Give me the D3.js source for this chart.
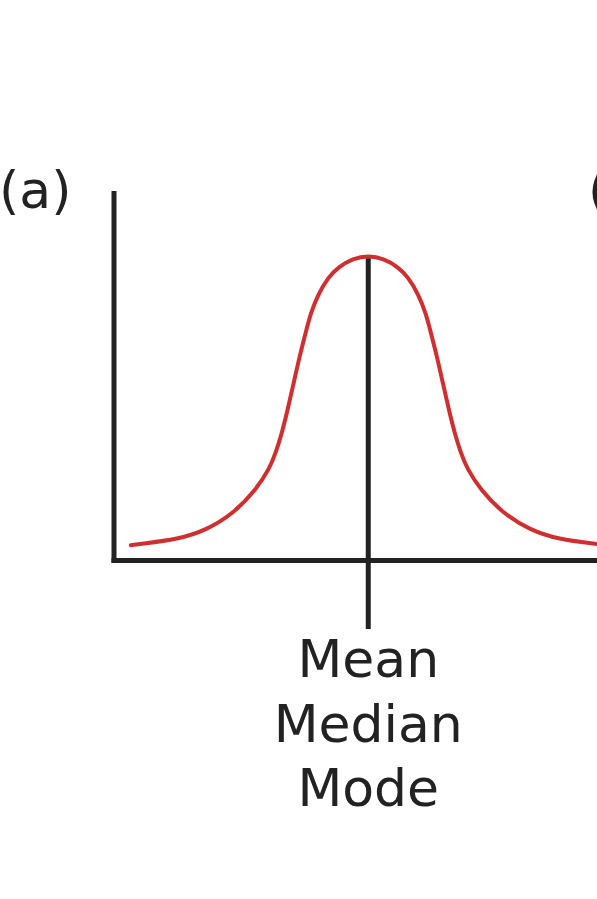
<!DOCTYPE html>
<html>
<head>
<meta charset="utf-8">
<script src="https://cdn.jsdelivr.net/npm/d3@7/dist/d3.min.js"></script>
<style>
  html, body { margin: 0; padding: 0; background: #ffffff; }
  svg { display: block; }
</style>
</head>
<body>
<svg id="chart" width="597" height="899"></svg>
<script>
// ---- data ----
// horizontal position in standard-deviation units, height as relative density
const curveZ = [-3.56, -3.44, -2.84, -2.43, -2.02, -1.68, -1.48, -1.39, -1.30, -1.21, -1.12, -1.03, -0.94, -0.87, -0.75, -0.60, -0.45, -0.23, 0,
                 0.23, 0.45, 0.60, 0.75, 0.87, 0.94, 1.03, 1.12, 1.21, 1.30, 1.39, 1.48, 1.68, 2.02, 2.43, 2.84, 3.44];
const curveDensity = [0.0014, 0.0028, 0.0096, 0.022, 0.045, 0.078, 0.107, 0.128, 0.154, 0.187, 0.224, 0.261, 0.293, 0.319, 0.347, 0.370, 0.384, 0.396, 0.400,
                      0.396, 0.384, 0.370, 0.347, 0.319, 0.293, 0.261, 0.224, 0.187, 0.154, 0.128, 0.107, 0.078, 0.045, 0.022, 0.0096, 0.0028];
const centerZ = 0;
const centerLabels = ["Mean", "Median", "Mode"];
const panelLabels = ["(a)", "(b)"];
const xDomain = [-3.82, 3.43];
const yDomain = [-0.019, 0.486];

// ---- layout ----
const svg = d3.select("#chart");
const mLeft = 113.5, mRight = 597, mTop = 193, mBottom = 560;
const x = d3.scaleLinear().domain(xDomain).range([mLeft, mRight]);
const y = d3.scaleLinear().domain(yDomain).range([mBottom, mTop]);

const ink = "#232223";
const font = "'DejaVu Sans', sans-serif";

// axes (no ticks)
const yAxis = svg.append("g")
  .attr("transform", `translate(${mLeft},0)`)
  .call(d3.axisLeft(y).tickValues([]).tickSizeOuter(0));
const xAxis = svg.append("g")
  .attr("transform", `translate(0,${mBottom})`)
  .call(d3.axisBottom(x).tickValues([]).tickSizeOuter(0));
[yAxis, xAxis].forEach(g => g.select(".domain")
  .attr("stroke", ink).attr("stroke-width", 5).attr("stroke-linecap", "square"));

// centre line (mean / median / mode)
const pts = curveZ.map((z, i) => ({ z, d: curveDensity[i] }));
const peak = pts.find(p => p.z === centerZ);
svg.append("line")
  .attr("x1", x(centerZ)).attr("x2", x(centerZ))
  .attr("y1", y(peak.d)).attr("y2", mBottom + 69)
  .attr("stroke", ink).attr("stroke-width", 5);

// bell curve
const line = d3.line()
  .x(p => x(p.z))
  .y(p => y(p.d))
  .curve(d3.curveBasis);
svg.append("path")
  .datum(pts)
  .attr("d", line)
  .attr("fill", "none")
  .attr("stroke", "#d12f2f")
  .attr("stroke-width", 4)
  .attr("stroke-linecap", "round");

// labels under the centre line
svg.append("g").selectAll("text")
  .data(centerLabels)
  .join("text")
  .attr("x", x(centerZ))
  .attr("y", (d, i) => 677 + i * 64.5)
  .attr("text-anchor", "middle")
  .attr("font-family", font)
  .attr("font-size", 52)
  .attr("fill", ink)
  .text(d => d);

// panel labels
svg.append("text")
  .attr("x", -1).attr("y", 208)
  .attr("font-family", font).attr("font-size", 52).attr("fill", ink)
  .text(panelLabels[0]);
svg.append("text")
  .attr("x", 588).attr("y", 208)
  .attr("font-family", font).attr("font-size", 52).attr("fill", ink)
  .text(panelLabels[1]);
</script>
</body>
</html>
